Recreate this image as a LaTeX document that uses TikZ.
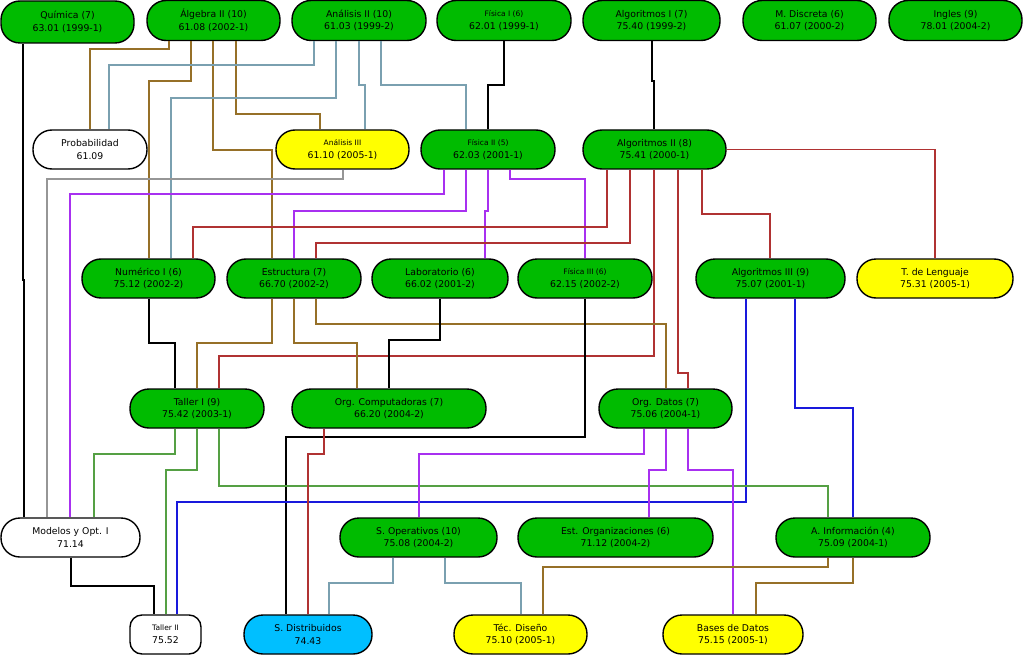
\documentclass[tikz,border=0pt]{standalone}
\usepackage{fontspec}
\setmainfont{DejaVu Sans}
\definecolor{cgreen}{RGB}{0,187,0}
\definecolor{cyellow}{RGB}{255,255,0}
\definecolor{ccyan}{RGB}{0,191,255}
\definecolor{lbrn}{RGB}{150,112,40}
\definecolor{lblg}{RGB}{122,160,176}
\definecolor{lpur}{RGB}{168,48,240}
\definecolor{lred}{RGB}{176,50,50}
\definecolor{lgrn}{RGB}{85,160,68}
\definecolor{lblu}{RGB}{25,25,220}
\definecolor{lgry}{RGB}{150,150,150}
\tikzset{
  course/.style={draw=black, line width=1.4pt, rounded corners=19pt, minimum height=39pt,
    inner sep=0pt, align=center, font=\fontsize{9.3}{12.7}\selectfont, fill=cgreen},
  elective/.style={course, fill=white},
  pending/.style={course, fill=cyellow},
  wire/.style={line width=1.2pt},
  wbrn/.style={wire, draw=lbrn}, wblg/.style={wire, draw=lblg},
  wpur/.style={wire, draw=lpur}, wred/.style={wire, draw=lred},
  wgrn/.style={wire, draw=lgrn}, wblu/.style={wire, draw=lblu},
  wgry/.style={wire, draw=lgry}, wblk/.style={wire, draw=black}
}
\newcommand\smalltxt[1]{{\fontsize{7.5}{9}\selectfont #1}}
\newcommand\ortho[6]{\draw[#1] (#2.south -| #3,0) -- (#3,#4) -- (#5,#4) -- (#6.north -| #5,0);}
\begin{document}
\begin{tikzpicture}[x=1pt,y=-1pt]
\useasboundingbox (0,0) rectangle (1024,655);
% row 1
\node[course, minimum width=133pt, minimum height=42pt] (quim) at (67.5,22) {Química (7)\\63.01 (1999-1)};
\node[course, minimum width=133pt, minimum height=40pt] (alg2) at (213.5,20.5) {Álgebra II (10)\\61.08 (2002-1)};
\node[course, minimum width=134pt, minimum height=40pt] (an2) at (359,20.5) {Análisis II (10)\\61.03 (1999-2)};
\node[course, minimum width=134pt, minimum height=40pt] (fis1) at (504,20.5) {\smalltxt{Física I (6)}\\62.01 (1999-1)};
\node[course, minimum width=137pt, minimum height=40pt] (alg1) at (651.5,20.5) {Algoritmos I (7)\\75.40 (1999-2)};
\node[course, minimum width=133pt, minimum height=40pt] (mdis) at (809.5,20.5) {M. Discreta (6)\\61.07 (2000-2)};
\node[course, minimum width=133pt, minimum height=40pt] (ing) at (955.5,20.5) {Ingles (9)\\78.01 (2004-2)};
% row 2
\node[elective, minimum width=114pt] (prob) at (90,149.5) {Probabilidad\\61.09};
\node[pending, minimum width=133pt] (an3) at (342.5,149.5) {\smalltxt{Análisis III}\\61.10 (2005-1)};
\node[course, minimum width=134pt] (fis2) at (488,149.5) {\smalltxt{Física II (5)}\\62.03 (2001-1)};
\node[course, minimum width=143pt] (algo2) at (654.5,149.5) {Algoritmos II (8)\\75.41 (2000-1)};
% row 3
\node[course, minimum width=133pt] (num) at (148.5,278.5) {Numérico I (6)\\75.12 (2002-2)};
\node[course, minimum width=134pt] (estr) at (294,278.5) {Estructura (7)\\66.70 (2002-2)};
\node[course, minimum width=136pt] (lab) at (440,278.5) {Laboratorio (6)\\66.02 (2001-2)};
\node[course, minimum width=134pt] (fis3) at (585,278.5) {\smalltxt{Física III (6)}\\62.15 (2002-2)};
\node[course, minimum width=149pt] (algo3) at (770.5,278.5) {Algoritmos III (9)\\75.07 (2001-1)};
\node[pending, minimum width=156pt] (tleng) at (935,278.5) {T. de Lenguaje\\75.31 (2005-1)};
% row 4
\node[course, minimum width=134pt] (tal1) at (197,408.5) {Taller I (9)\\75.42 (2003-1)};
\node[course, minimum width=194pt] (orgc) at (389,408.5) {Org. Computadoras (7)\\66.20 (2004-2)};
\node[course, minimum width=133pt] (odat) at (665.5,408.5) {Org. Datos (7)\\75.06 (2004-1)};
% row 5
\node[elective, minimum width=139pt] (model) at (70.5,537.5) {Modelos y Opt. I\\71.14};
\node[course, minimum width=157pt] (sop) at (418.5,537.5) {S. Operativos (10)\\75.08 (2004-2)};
\node[course, minimum width=195pt] (estorg) at (615.5,537.5) {Est. Organizaciones (6)\\71.12 (2004-2)};
\node[course, minimum width=154pt] (ainf) at (853,537.5) {A. Información (4)\\75.09 (2004-1)};
% row 6
\node[elective, minimum width=71pt, rounded corners=12pt] (tal2) at (165.5,634.5) {\smalltxt{Taller II}\\75.52};
\node[course, fill=ccyan, minimum width=128pt] (sdist) at (308,634.5) {S. Distribuidos\\74.43};
\node[pending, minimum width=133pt] (tdis) at (520.5,634.5) {Téc. Diseño\\75.10 (2005-1)};
\node[pending, minimum width=140pt] (bdd) at (733,634.5) {Bases de Datos\\75.15 (2005-1)};
% connectors
\ortho{wblk}{quim}{23}{280}{24}{model}
\ortho{wbrn}{alg2}{169}{49}{90}{prob}
\ortho{wbrn}{alg2}{191}{81}{149}{num}
\ortho{wbrn}{alg2}{213}{150}{272}{estr}
\ortho{wbrn}{alg2}{236}{114}{320}{an3}
\ortho{wblg}{an2}{314}{65}{109}{prob}
\ortho{wblg}{an2}{336}{98}{171}{num}
\ortho{wblg}{an2}{359}{85}{365}{an3}
\ortho{wblg}{an2}{381}{85}{466}{fis2}
\ortho{wblk}{fis1}{504}{85}{488}{fis2}
\ortho{wblk}{alg1}{652}{81}{654}{algo2}
\ortho{wgry}{an3}{343}{179}{47}{model}
\ortho{wpur}{fis2}{444}{194}{70}{model}
\ortho{wpur}{fis2}{466}{211}{294}{estr}
\ortho{wpur}{fis2}{488}{211}{485}{lab}
\ortho{wpur}{fis2}{510}{179}{585}{fis3}
\ortho{wred}{algo2}{607}{227}{193}{num}
\ortho{wred}{algo2}{630}{243}{316}{estr}
\ortho{wred}{algo2}{654}{356}{219}{tal1}
\ortho{wred}{algo2}{678}{373}{688}{odat}
\ortho{wred}{algo2}{702}{214}{770}{algo3}
\draw[wred] (algo2.east) -| (tleng.north);
\ortho{wblk}{num}{149}{343}{175}{tal1}
\ortho{wbrn}{estr}{272}{343}{197}{tal1}
\ortho{wbrn}{estr}{294}{343}{357}{orgc}
\ortho{wbrn}{estr}{316}{324}{666}{odat}
\ortho{wblk}{lab}{440}{340}{389}{orgc}
\ortho{wblk}{fis3}{585}{437}{286}{sdist}
\ortho{wblu}{algo3}{746}{502}{177}{tal2}
\ortho{wblu}{algo3}{795}{408}{853}{ainf}
\ortho{wgrn}{tal1}{175}{454}{94}{model}
\ortho{wgrn}{tal1}{197}{470}{166}{tal2}
\ortho{wgrn}{tal1}{219}{486}{828}{ainf}
\ortho{wred}{orgc}{324}{454}{308}{sdist}
\ortho{wpur}{odat}{644}{454}{419}{sop}
\ortho{wpur}{odat}{666}{470}{649}{estorg}
\ortho{wpur}{odat}{688}{470}{733}{bdd}
\ortho{wblg}{sop}{393}{583}{329}{sdist}
\ortho{wblg}{sop}{445}{583}{521}{tdis}
\ortho{wbrn}{ainf}{828}{567}{543}{tdis}
\ortho{wbrn}{ainf}{853}{583}{756}{bdd}
\ortho{wblk}{model}{71}{586}{154}{tal2}
\end{tikzpicture}
\end{document}
